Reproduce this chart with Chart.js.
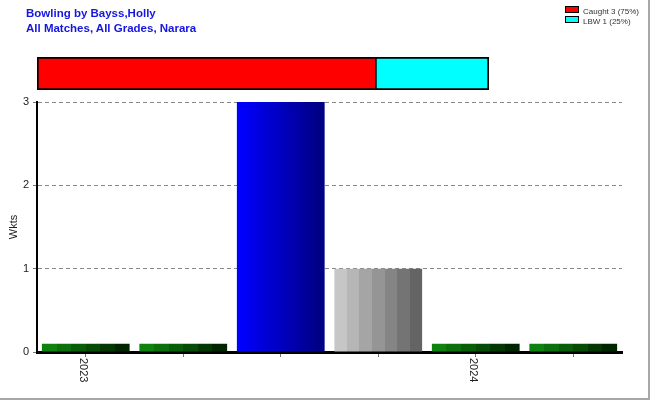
<!DOCTYPE html>
<html>
<head>
<meta charset="utf-8">
<script src="https://cdn.jsdelivr.net/npm/chart.js@4"></script>
<style>
body { margin: 0; background: #fff; font-family: "Liberation Sans", Arial, sans-serif; }
#wrap { position: relative; width: 650px; height: 400px; box-sizing: border-box; border-right: 2px solid #a8a8a8; border-bottom: 2px solid #a8a8a8; overflow: hidden; }
#title { position: absolute; left: 26px; top: 6px; color: #1515e0; font-weight: bold; font-size: 11.5px; line-height: 15px; }
#legend { position: absolute; left: 565px; top: 6px; font-size: 8px; color: #333; }
#legend div { height: 10px; line-height: 10px; white-space: nowrap; }
#legend span { display: inline-block; width: 12px; height: 5px; border: 1px solid #000; margin-right: 4px; vertical-align: 1px; }
#mainChart { position: absolute; left: 0; top: 0; }
#splitChart { position: absolute; left: 37px; top: 57px; }
</style>
</head>
<body>
<div id="wrap">
  <canvas id="mainChart" width="650" height="400"></canvas>
  <canvas id="splitChart" width="452" height="33"></canvas>
  <div id="title">Bowling by Bayss,Holly<br>All Matches, All Grades, Narara</div>
  <div id="legend"></div>
</div>
<script>
// bar chart data
const labels = ['2023', '', '', '', '2024', ''];
const wickets = [0.1, 0.1, 3, 1, 0.1, 0.1];

// dismissal split
const dismissTypes = ['Caught', 'LBW'];
const dismissCounts = [3, 1];
const dismissColors = ['#ff0000', '#00ffff'];

// bar looks (style only)
const barLook = ['green', 'green', 'blue', 'gray', 'green', 'green'];
const looks = {
    green: { from: [14, 130, 14], to: [0, 38, 0], bands: 6 },
    blue: { from: [0, 0, 255], to: [0, 0, 128], bands: 24 },
    gray: { from: [198, 198, 198], to: [100, 100, 100], bands: 7 }
};
const barPct = 0.9;

function bandGradient(ctx, x0, x1, look) {
    const g = ctx.createLinearGradient(x0, 0, x1, 0);
    const n = look.bands;
    for (let i = 0; i < n; i++) {
        const t = n > 1 ? i / (n - 1) : 0;
        const c = look.from.map((v, k) => Math.round(v + (look.to[k] - v) * t));
        const col = 'rgb(' + c.join(',') + ')';
        g.addColorStop(i / n, col);
        g.addColorStop((i + 1) / n, col);
    }
    return g;
}

const yearLabels = {
    id: 'yearLabels',
    afterDraw(chart) {
        const xs = chart.scales.x;
        const ctx = chart.ctx;
        ctx.save();
        ctx.fillStyle = '#222';
        ctx.font = '11px "Liberation Sans", Arial, sans-serif';
        ctx.textAlign = 'left';
        ctx.textBaseline = 'middle';
        labels.forEach((l, i) => {
            if (!l) return;
            ctx.save();
            ctx.translate(xs.getPixelForValue(i) - 3, xs.top + 6);
            ctx.rotate(Math.PI / 2);
            ctx.fillText(l, 0, 0);
            ctx.restore();
        });
        ctx.restore();
    }
};

new Chart(document.getElementById('mainChart'), {
    type: 'bar',
    data: {
        labels: labels,
        datasets: [{
            data: wickets,
            backgroundColor: (c) => {
                const chart = c.chart;
                const xs = chart.scales.x;
                const look = looks[barLook[c.dataIndex]] || looks.green;
                if (!chart.chartArea || !xs || c.dataIndex === undefined) return 'rgb(0,100,0)';
                const center = xs.getPixelForValue(c.dataIndex);
                const w = xs.width / labels.length * barPct;
                return bandGradient(chart.ctx, center - w / 2, center + w / 2, look);
            },
            borderWidth: 0,
            barPercentage: barPct,
            categoryPercentage: 1
        }]
    },
    options: {
        responsive: false,
        animation: false,
        layout: { padding: { top: 102, right: 28, left: 0, bottom: 0 } },
        plugins: { legend: { display: false }, tooltip: { enabled: false } },
        scales: {
            x: {
                ticks: { display: false },
                grid: { drawOnChartArea: false, offset: false, tickLength: 5, tickColor: '#777', tickWidth: 1 },
                border: { color: '#000', width: 3 },
                afterFit: s => { s.height = 48; }
            },
            y: {
                min: 0,
                max: 3,
                ticks: { stepSize: 1, color: '#222', padding: 4, font: { size: 11, family: '"Liberation Sans", Arial, sans-serif' } },
                grid: { color: '#888', lineWidth: 1, tickLength: 4, tickColor: '#777' },
                border: { color: '#000', width: 2, dash: [4, 3] },
                title: { display: true, text: 'Wkts', color: '#222', padding: { top: 7, bottom: 0 }, font: { size: 11, family: '"Liberation Sans", Arial, sans-serif' } },
                afterFit: s => { s.width = 37; }
            }
        }
    },
    plugins: [yearLabels]
});

const total = dismissCounts.reduce((a, b) => a + b, 0);

new Chart(document.getElementById('splitChart'), {
    type: 'bar',
    data: {
        labels: [''],
        datasets: dismissTypes.map((t, i) => ({
            label: t,
            data: [dismissCounts[i]],
            backgroundColor: dismissColors[i],
            borderColor: '#000',
            borderWidth: { top: 2, bottom: 2, left: i === 0 ? 2 : 1, right: i === dismissTypes.length - 1 ? 2 : 1 },
            borderSkipped: false,
            barPercentage: 1,
            categoryPercentage: 1
        }))
    },
    options: {
        indexAxis: 'y',
        responsive: false,
        animation: false,
        layout: { padding: 0 },
        plugins: { legend: { display: false }, tooltip: { enabled: false } },
        scales: {
            x: { stacked: true, min: 0, max: total, display: false },
            y: { stacked: true, display: false }
        }
    }
});

const legend = document.getElementById('legend');
dismissTypes.forEach((t, i) => {
    const row = document.createElement('div');
    const box = document.createElement('span');
    box.style.background = dismissColors[i];
    row.appendChild(box);
    row.appendChild(document.createTextNode(t + ' ' + dismissCounts[i] + ' (' + Math.round(dismissCounts[i] / total * 100) + '%)'));
    legend.appendChild(row);
});
</script>
</body>
</html>
